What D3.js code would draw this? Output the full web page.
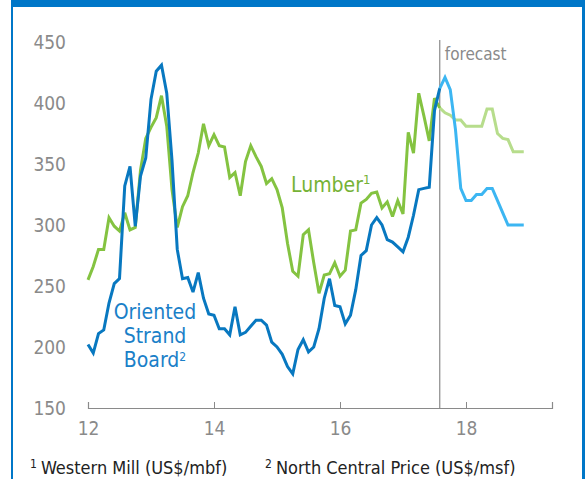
<!DOCTYPE html>
<html>
<head>
<meta charset="utf-8">
<script src="https://cdn.jsdelivr.net/npm/d3@7"></script>
<style>
  html, body { margin: 0; padding: 0; background: #fff; }
  svg { display: block; }
  text { font-family: "Liberation Sans Narrow", "DejaVu Sans Condensed", "Open Sans", sans-serif; }
</style>
</head>
<body>
<svg id="chart" width="587" height="479"></svg>
<script>
// Monthly prices from Jan 2012 (year axis is 2-digit: 12 = 2012)
const startYear = 12;
const lumberActual = [
  255, 266, 280, 280, 306, 299, 295, 310, 296, 298, 345, 371,
  380, 388, 406, 381, 329, 298, 315, 324, 343, 359, 383, 365,
  374, 365, 364, 339, 343, 324, 352, 365, 356, 348, 334, 338,
  329, 314, 285, 262, 258, 292, 296, 269, 244, 259, 260, 269,
  258, 263, 295, 296, 318, 321, 326, 327, 314, 319, 307, 320,
  309, 376, 359, 408, 389, 369, 404, 396
];
const osbActual = [
  202, 195, 211, 214, 236, 252, 256, 332, 348, 299, 340, 355,
  403, 426, 431, 408, 353, 280, 256, 257, 245, 261, 240, 227,
  226, 215, 215, 210, 233, 210, 212, 217, 222, 222, 218, 204,
  200, 194, 184, 178, 198, 206, 196, 200, 215, 240, 256, 234,
  233, 219, 226, 247, 275, 279, 300, 306, 300, 288, 286, 282,
  278, 290, 308, 329, 330, 331, 394, 412
];
// Forecast continues monthly from the last actual month to Dec 2018
const forecastStart = 67;
const lumberForecast = [396, 392, 390, 386, 386, 381, 381, 381, 381, 395, 395, 375, 371, 370, 360, 360, 360];
const osbForecast = [412, 421, 411, 378, 330, 320, 320, 325, 325, 330, 330, 320, 310, 300, 300, 300, 300];

const yTicks = [150, 200, 250, 300, 350, 400, 450];
const xTicks = [12, 14, 16, 18];
const xTickLabels = ["12", "14", "16", "18"];
const footnotes = [
  { mark: "1", text: "Western Mill (US$/mbf)" },
  { mark: "2", text: "North Central Price (US$/msf)" }
];

const colors = {
  frame: "#0077c8",
  axis: "#8a8a8a",
  lumber: "#84c341",
  lumberForecast: "#b7dd8c",
  lumberLabel: "#76b236",
  osb: "#0878c0",
  osbForecast: "#3cb6f2",
  osbLabel: "#1a80c8",
  note: "#222"
};

const svg = d3.select("#chart");

// Frame: thick bar on top, thin rules on both sides
svg.append("rect").attr("x", 11).attr("y", 0).attr("width", 574).attr("height", 7).attr("fill", colors.frame);
svg.append("rect").attr("x", 11).attr("y", 0).attr("width", 2).attr("height", 479).attr("fill", colors.frame);
svg.append("rect").attr("x", 582).attr("y", 0).attr("width", 3).attr("height", 479).attr("fill", colors.frame);

const x = d3.scaleLinear().domain([12, 19.365]).range([88, 552]);
const y = d3.scaleLinear().domain([150, 450]).range([408, 42]);

const monthT = i => startYear + i / 12;
const toPts = (arr, offset) => arr.map((v, i) => ({ t: monthT(i + offset), v }));

// Y labels (no axis line)
svg.append("g").selectAll("text").data(yTicks).join("text")
  .attr("x", 66).attr("y", d => y(d)).attr("dy", "0.35em")
  .attr("text-anchor", "end").attr("fill", colors.axis)
  .attr("font-size", 19).text(d => d);

// X axis
const xAxis = svg.append("g").attr("transform", `translate(0,${y(150)})`)
  .call(d3.axisBottom(x).tickValues(xTicks).tickFormat((d, i) => xTickLabels[i]).tickSize(-6).tickPadding(14));
xAxis.select(".domain").attr("stroke", colors.axis).attr("stroke-width", 1.2);
xAxis.selectAll(".tick line").attr("stroke", colors.axis);
xAxis.selectAll(".tick text").attr("fill", colors.axis).attr("font-size", 19)
  .attr("font-family", "\"Liberation Sans Narrow\", \"DejaVu Sans Condensed\", sans-serif");

// Forecast divider
const tF = monthT(forecastStart);
svg.append("line").attr("x1", x(tF)).attr("x2", x(tF)).attr("y1", 40).attr("y2", y(150))
  .attr("stroke", colors.axis).attr("stroke-width", 1.2);
svg.append("text").attr("x", x(tF) + 5).attr("y", 60).attr("fill", colors.axis)
  .attr("font-size", 17).text("forecast");

const line = d3.line().x(d => x(d.t)).y(d => y(d.v));

function drawSeries(data, color) {
  svg.append("path").datum(data).attr("d", line)
    .attr("fill", "none").attr("stroke", color).attr("stroke-width", 3)
    .attr("stroke-linejoin", "miter").attr("stroke-miterlimit", 3);
}

drawSeries(toPts(lumberForecast, forecastStart), colors.lumberForecast);
drawSeries(toPts(lumberActual, 0), colors.lumber);
drawSeries(toPts(osbForecast, forecastStart), colors.osbForecast);
drawSeries(toPts(osbActual, 0), colors.osb);

// Series labels
const lum = svg.append("text").attr("x", 291).attr("y", 192).attr("fill", colors.lumberLabel).attr("font-size", 21);
lum.append("tspan").text("Lumber");
lum.append("tspan").attr("font-size", 13).attr("dy", -8).text("1");

// Three-line OSB label in one text element
const osbLines = ["Oriented", "Strand", "Board"];
const osbText = svg.append("text").attr("y", 319)
  .attr("text-anchor", "middle").attr("fill", colors.osbLabel).attr("font-size", 21);
osbLines.forEach((s, i) => {
  osbText.append("tspan").attr("x", 155).attr("dy", i === 0 ? 0 : 24).text(s);
  if (i === osbLines.length - 1) {
    osbText.append("tspan").attr("font-size", 12).attr("dy", -6).text("2");
  }
});

// Footnotes
const noteX = [30, 265];
footnotes.forEach((f, i) => {
  const t = svg.append("text").attr("x", noteX[i]).attr("y", 474).attr("fill", colors.note).attr("font-size", 18);
  t.append("tspan").attr("font-size", 12).attr("dy", -6).text(f.mark);
  t.append("tspan").attr("dy", 6).attr("dx", 4).text(f.text);
});
</script>
</body>
</html>
